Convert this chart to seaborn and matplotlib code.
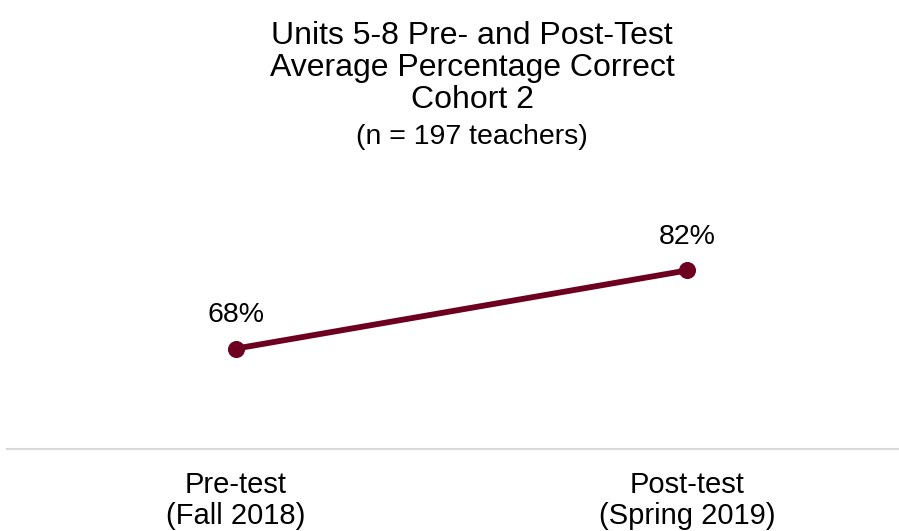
import matplotlib
matplotlib.use("Agg")
import matplotlib.pyplot as plt
import seaborn as sns
import pandas as pd

# Data
tests = ["Pre-test\n(Fall 2018)", "Post-test\n(Spring 2019)"]
avg_correct = [68, 82]
value_labels = ["68%", "82%"]

title_lines = ["Units 5-8 Pre- and Post-Test", "Average Percentage Correct", "Cohort 2"]
subtitle = "(n = 197 teachers)"

line_color = "#6d0020"

sns.set_theme(style="white")
plt.rcParams["font.family"] = ["Liberation Sans", "DejaVu Sans"]

df = pd.DataFrame({"test": tests, "pct": avg_correct})

fig = plt.figure(figsize=(8.99, 5.31), dpi=100)
ax = fig.add_axes([7 / 899, 1 - 449 / 531, 892 / 899, 279 / 531])

sns.lineplot(data=df, x="test", y="pct", ax=ax, color=line_color,
             linewidth=4.2, marker="o", markersize=11.5,
             markeredgecolor=line_color, sort=False)

for i, (v, lab) in enumerate(zip(avg_correct, value_labels)):
    ax.annotate(lab, (i, v), xytext=(0, 24), textcoords="offset points",
                ha="center", va="center", fontsize=20.5, color="black")

ax.set_xlim(-0.508, 1.47)
ax.set_ylim(50, 100)
ax.set_xlabel("")
ax.set_ylabel("")
ax.set_yticks([])
ax.set_xticks(range(len(tests)))
ax.set_xticklabels(tests, fontsize=21, linespacing=1.18, color="black")
ax.tick_params(axis="x", length=0, pad=15.5)

for side in ["top", "right", "left"]:
    ax.spines[side].set_visible(False)
ax.spines["bottom"].set_color("#d9d9d9")
ax.spines["bottom"].set_linewidth(1.5)

# Title block
for k, line in enumerate(title_lines):
    fig.text(472 / 899, 1 - (36.5 + 31.5 * k) / 531, line, ha="center", va="center",
             fontsize=23, color="black")
fig.text(472 / 899, 1 - 137.5 / 531, subtitle, ha="center", va="center",
         fontsize=20.5, color="black")

fig.savefig("out.png", dpi=100)
